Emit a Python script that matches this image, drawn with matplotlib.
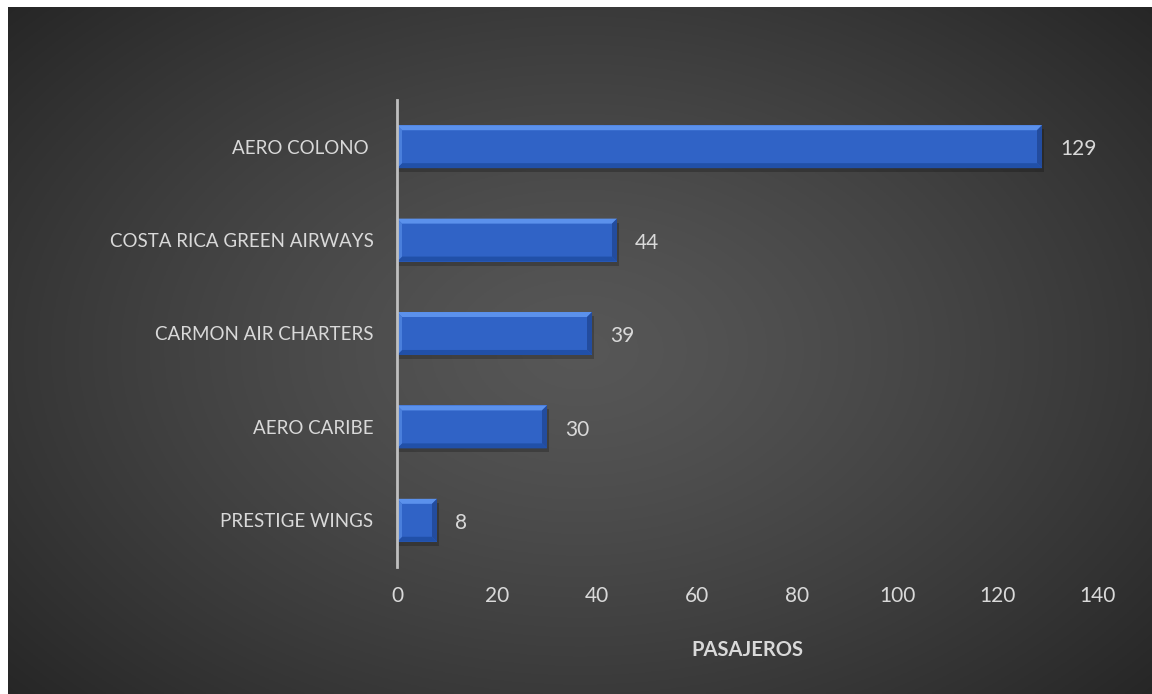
import numpy as np
import matplotlib
matplotlib.use("Agg")
import matplotlib.pyplot as plt
from matplotlib.patches import Polygon, Rectangle
from matplotlib.transforms import IdentityTransform

# data
airlines = ["PRESTIGE WINGS", "AERO CARIBE", "CARMON AIR CHARTERS",
            "COSTA RICA GREEN AIRWAYS", "AERO COLONO "]
pasajeros = [8, 30, 39, 44, 129]
x_ticks = [0, 20, 40, 60, 80, 100, 120, 140]

plt.rcParams['font.family'] = ['Lato', 'DejaVu Sans']
txt_color = '#d9d9d9'

W, H = 1152, 694
fig = plt.figure(figsize=(W / 100, H / 100), dpi=100, facecolor='white')

# dark radial background
bg = fig.add_axes([8 / W, 0, 1 - 8 / W, 1 - 7 / H], zorder=-1)
yy, xx = np.mgrid[-1:1:300j, -1:1:500j]
r = np.sqrt(xx ** 2 + (yy * 0.9) ** 2)
shade = 0.34 - 0.19 * np.clip(r / 1.35, 0, 1) ** 1.3
bg.imshow(np.dstack([shade] * 3), aspect='auto', extent=[0, 1, 0, 1])
bg.axis('off')

ax = fig.add_axes([397 / W, (H - 567) / H, 700 / W, 467 / H])
ax.patch.set_alpha(0)

ypos = np.arange(len(airlines))
bar_h = 0.46
bars = ax.barh(ypos, pasajeros, height=bar_h, color='#3063c6', zorder=3)

ax.set_xlim(0, 140)
ax.set_ylim(-0.5, len(airlines) - 0.5)
ax.set_xticks(x_ticks)
ax.set_yticks(ypos)
ax.set_yticklabels(airlines, fontsize=13.5)
ax.tick_params(axis='both', length=0, colors=txt_color)
ax.tick_params(axis='x', labelsize=15, pad=14)
ax.tick_params(axis='y', pad=17)
for s in ['top', 'right', 'bottom']:
    ax.spines[s].set_visible(False)
ax.spines['left'].set_color('#bfbfbf')
ax.spines['left'].set_linewidth(2)
ax.spines['left'].set_zorder(5)

ax.set_xlabel('PASAJEROS', color=txt_color, fontsize=14.5, fontweight='bold', labelpad=24)

# bevel effect on each bar, built from the bar geometry in pixels
ident = IdentityTransform()
b = 5
for bar in bars:
    (x0, y0), (x1, y1) = ax.transData.transform(
        [(bar.get_x(), bar.get_y()), (bar.get_x() + bar.get_width(), bar.get_y() + bar.get_height())])
    bb = min(b, (x1 - x0) / 2)
    ax.add_patch(Rectangle((x0 + 2, y0 - 4), x1 - x0, y1 - y0, transform=ident,
                           color='black', alpha=0.22, zorder=2, lw=0))
    ax.add_patch(Polygon([(x0, y1), (x1, y1), (x1 - bb, y1 - b), (x0 + bb, y1 - b)],
                         transform=ident, color='#5b91ec', zorder=4, lw=0))
    ax.add_patch(Polygon([(x0, y0), (x1, y0), (x1 - bb, y0 + b), (x0 + bb, y0 + b)],
                         transform=ident, color='#2150a8', zorder=4, lw=0))
    ax.add_patch(Polygon([(x1, y0), (x1, y1), (x1 - bb, y1 - b), (x1 - bb, y0 + b)],
                         transform=ident, color='#234c9e', zorder=4, lw=0))
    ax.add_patch(Polygon([(x0, y0), (x0, y1), (x0 + bb, y1 - b), (x0 + bb, y0 + b)],
                         transform=ident, color='#4a7fdc', zorder=4, lw=0))

for y, v in zip(ypos, pasajeros):
    ax.annotate(str(v), (v, y), xytext=(13, -2), textcoords='offset points',
                va='center', ha='left', color=txt_color, fontsize=15)

fig.savefig('out.png', dpi=100, facecolor=fig.get_facecolor())
